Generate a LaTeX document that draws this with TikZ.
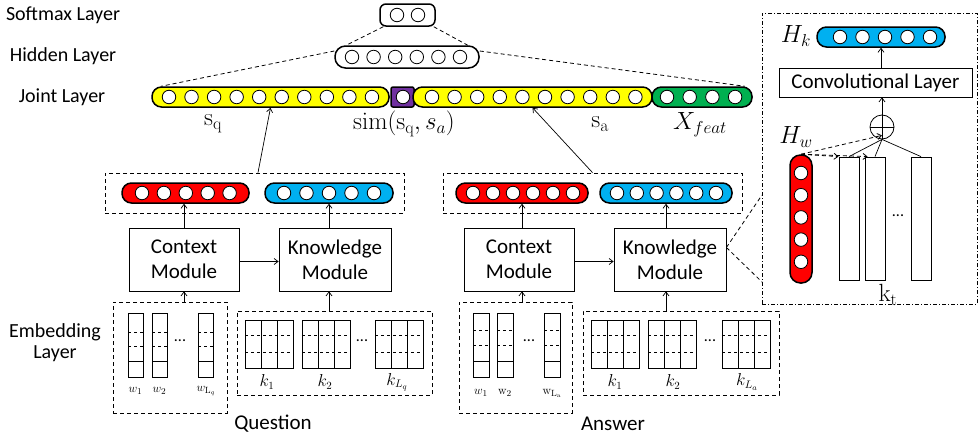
\documentclass[tikz,border=0pt]{standalone}
\usepackage[no-math]{fontspec}
\setmainfont{Carlito}
\usetikzlibrary{arrows.meta}
\definecolor{cyel}{HTML}{FFFF00}
\definecolor{cpur}{HTML}{7030A0}
\definecolor{cgrn}{HTML}{00B050}
\definecolor{cred}{HTML}{FF0000}
\definecolor{cblu}{HTML}{00B0F0}
\tikzset{
  pill/.style={draw, line width=1.5pt, rounded corners=9.5pt, minimum height=20, inner sep=0},
  cir/.style={circle, draw, fill=white, minimum size=13.5, inner sep=0, line width=0.8pt},
  modbox/.style={draw, line width=0.8pt, minimum width=110, minimum height=63, align=center, inner sep=0, font=\fontsize{21}{25}\selectfont},
  dbox/.style={draw, line width=0.8pt, dash pattern=on 4pt off 3pt, inner sep=0},
  dl/.style={line width=0.8pt, dash pattern=on 4pt off 3pt},
  arr/.style={-{Straight Barb[length=4pt,width=6pt]}, line width=0.7pt},
  lab/.style={font=\fontsize{20}{23}\selectfont, inner sep=0},
  mlab/.style={font=\fontsize{24}{26}\selectfont, inner sep=0},
  klab/.style={font=\fontsize{16}{18}\selectfont, inner sep=0},
  wlab/.style={font=\fontsize{13}{15}\selectfont, inner sep=0},
  grid/.style={line width=0.7pt},
}
\begin{document}
\begin{tikzpicture}[x=1pt,y=-1pt]
\useasboundingbox (0,0) rectangle (978,439);

% layer labels
\node[lab] (lsm) at (63,15) {Softmax Layer};
\node[lab] (lhd) at (63,56) {Hidden Layer};
\node[lab] (ljn) at (62,97) {Joint Layer};
\node[lab, align=center, font=\fontsize{20}{21}\selectfont] (lem) at (55,343) {Embedding\\Layer};

% softmax & hidden
\node[pill, minimum width=55, minimum height=22, rounded corners=6pt] (sm) at (407.5,15) {};
\foreach \i in {0,1} \node[cir] (smc\i) at ({397+21*\i},15) {};
\node[pill, minimum width=144, minimum height=22, rounded corners=10.5pt] (hid) at (407,57) {};
\foreach \i in {0,...,5} \node[cir] (hc\i) at ({352+21.6*\i},57) {};

% joint layer
\node[pill, fill=cyel, minimum width=237] (j1) at (270.5,97) {};
\foreach \i in {0,...,9} \node[cir] (j1c\i) at ({169+22.55*\i},97) {};
\node[pill, fill=cpur, minimum width=23, rounded corners=2pt] (jp) at (402.5,97) {};
\node[cir] (jpc) at (403,97) {};
\node[pill, fill=cyel, minimum width=239] (j2) at (532.5,97) {};
\foreach \i in {0,...,9} \node[cir] (j2c\i) at ({432+22.6*\i},97) {};
\node[pill, fill=cgrn, minimum width=100] (jg) at (702,97) {};
\foreach \i in {0,...,3} \node[cir] (jgc\i) at ({667+22.7*\i},97) {};

\draw[dl] ([xshift=4]sm.south west) -- ([xshift=12]hid.north west);
\draw[dl] ([xshift=-2]sm.south east) -- ([xshift=-12]hid.north east);
\draw[dl] ([yshift=6]hid.west) -- ([xshift=10]j1.north west);
\draw[dl] ([yshift=6]hid.east) -- ([xshift=-8]jg.north east);

\node[mlab] (lsq) at (213,124) {$\mathrm{s_q}$};
\node[mlab] (lsim) at (404,124) {$\mathrm{sim}(\mathrm{s_q},s_a)$};
\node[mlab] (lsa) at (600,124) {$\mathrm{s_a}$};
\node[mlab] (lxf) at (700,125) {$X_{feat}$};

% ---------- Question ----------
\node[dbox, minimum width=299, minimum height=40] (qd) at (254.5,193) {};
\node[pill, fill=cred, minimum width=127] (qr) at (185.5,193) {};
\foreach \i in {0,...,4} \node[cir] (qrc\i) at ({142+21.9*\i},193) {};
\node[pill, fill=cblu, minimum width=128] (qb) at (329,193) {};
\foreach \i in {0,...,4} \node[cir] (qbc\i) at ({284+22.5*\i},193) {};
\node[modbox] (qc) at (184,259.5) {Context\\Module};
\node[modbox, minimum width=112] (qk) at (335,259.5) {Knowledge\\Module};
\draw[arr] (qc.north) -- (qc.north |- qr.south);
\draw[arr] (qb.south |- qk.north) -- (qb.south);
\draw[arr] ([yshift=-2]qc.east) -- ([yshift=-2]qk.west);
\draw[arr] ([xshift=3.5]qd.north) -- (j1.south);

\node[dbox, minimum width=114, minimum height=111] (qw) at (170,357.5) {};
\draw[arr] (qc.south |- qw.north) -- (qc.south);
\foreach \x in {128,152,198} {
  \draw[grid] (\x,313) rectangle +(15,64);
  \draw[grid, dashed] (\x,332) -- +(15,0) (\x,346) -- +(15,0);
  \draw[grid] (\x,361) -- +(15,0);
}
\node[klab] (qwdots) at (180,341) {...};
\node[wlab] (qw1) at (135.5,391) {$w_1$};
\node[wlab] (qw2) at (159.5,391) {$w_2$};
\node[wlab] (qw3) at (206,391) {$w_{\mathrm{L}_q}$};

\node[dbox, minimum width=195, minimum height=84] (qkd) at (334.5,353) {};
\draw[arr] (qb.south |- qkd.north) -- (qb.south |- qk.south);
\foreach \x in {245,302,375} {
  \draw[grid] (\x,320) rectangle +(48,48);
  \draw[grid] (\x+16,320) -- +(0,48) (\x+32,320) -- +(0,48);
  \draw[grid, dashed] (\x,335) -- +(48,0) (\x,352) -- +(48,0);
}
\node[klab] (qkdots) at (362,341) {...};
\node[klab] (qk1) at (267,382) {$k_1$};
\node[klab] (qk2) at (325,382) {$k_2$};
\node[klab] (qk3) at (397,382) {$k_{L_q}$};
\node[lab, font=\fontsize{21}{24}\selectfont] (lq) at (273,424) {Question};

% ---------- Answer ----------
\node[dbox, minimum width=299, minimum height=40] (ad) at (592.5,193) {};
\node[pill, fill=cred, minimum width=132] (ar) at (522,193) {};
\foreach \i in {0,...,5} \node[cir] (arc\i) at ({473+20*\i},193) {};
\node[pill, fill=cblu, minimum width=132] (ab) at (666,193) {};
\foreach \i in {0,...,5} \node[cir] (abc\i) at ({617+19.8*\i},193) {};
\node[modbox] (ac) at (519,259.5) {Context\\Module};
\node[modbox, minimum width=112] (ak) at (670,259.5) {Knowledge\\Module};
\draw[arr] (ar.south |- ac.north) -- (ar.south);
\draw[arr] (ab.south |- ak.north) -- (ab.south);
\draw[arr] ([yshift=-2]ac.east) -- ([yshift=-2]ak.west);
\draw[arr] (ad.north) -- (j2.south);

\node[dbox, minimum width=113, minimum height=111] (aw) at (515.5,357.5) {};
\draw[arr] (ar.south |- aw.north) -- (ar.south |- ac.south);
\foreach \x in {473,497,544} {
  \draw[grid] (\x,313) rectangle +(16,64);
  \draw[grid, dashed] (\x,330) -- +(16,0) (\x,345) -- +(16,0);
  \draw[grid] (\x,361) -- +(16,0);
}
\node[klab] (awdots) at (529,341) {...};
\node[wlab] (aw1) at (481,393) {$w_1$};
\node[wlab] (aw2) at (505,393) {$\mathrm{w_2}$};
\node[wlab] (aw3) at (552,393) {$\mathrm{w_{L_a}}$};

\node[dbox, minimum width=196, minimum height=84] (akd) at (681,353) {};
\draw[arr] (ab.south |- akd.north) -- (ab.south |- ak.south);
\foreach \x in {591,648,722} {
  \draw[grid] (\x,320) rectangle +(48,48);
  \draw[grid] (\x+16,320) -- +(0,48) (\x+32,320) -- +(0,48);
  \draw[grid, dashed] (\x,335) -- +(48,0) (\x,352) -- +(48,0);
}
\node[klab] (akdots) at (710,341) {...};
\node[klab] (ak1) at (615,382) {$k_1$};
\node[klab] (ak2) at (673,382) {$k_2$};
\node[klab] (ak3) at (747,382) {$k_{L_a}$};
\node[lab, font=\fontsize{21}{24}\selectfont] (la) at (613,424) {Answer};

% ---------- right panel ----------
\node[draw, line width=0.8pt, dash pattern=on 4pt off 2pt on 1pt off 2pt, minimum width=215, minimum height=291, inner sep=0] (panel) at (869.5,158.5) {};
\coordinate (zt) at (762,195);
\coordinate (zb) at (762,282);
\draw[dl] ([yshift=12]ak.east) -- (zt);
\draw[dl] ([yshift=12]ak.east) -- (zb);

\node[mlab] (lhk) at (796,36) {$H_k$};
\node[pill, fill=cblu, minimum width=128] (hk) at (881,37) {};
\foreach \i in {0,...,4} \node[cir] (hkc\i) at ({840+22.5*\i},37) {};
\node[modbox, minimum width=193, minimum height=29] (conv) at (875.5,82.5) {Convolutional Layer};
\draw[arr] (hk.south |- conv.north) -- (hk.south);
\node[circle, draw, line width=0.8pt, minimum size=24, inner sep=0] (op) at (882,127) {};
\draw[line width=0.8pt] (op.north) -- (op.south) (op.west) -- (op.east);
\draw[arr] (op.north) -- (op.north |- conv.south);

\node[mlab] (lhw) at (796,137) {$H_w$};
\node[pill, fill=cred, minimum width=22, minimum height=128, rounded corners=10.5pt] (hw) at (801,219) {};
\foreach \i in {0,...,4} \node[cir] (hwc\i) at (801,{173+22.2*\i}) {};
\node[draw, line width=0.8pt, minimum width=20, minimum height=123, inner sep=0] (r1) at (849,218.5) {};
\node[draw, line width=0.8pt, minimum width=20, minimum height=123, inner sep=0] (r2) at (875,218.5) {};
\node[draw, line width=0.8pt, minimum width=20, minimum height=123, inner sep=0] (r3) at (921,218.5) {};
\node[klab] (rdots) at (898,216) {...};
\node[mlab] (lkt) at (888,295) {$\mathrm{k_t}$};
\draw[line width=0.7pt] (op.south) -- (r1.north) (op.south) -- (r2.north) (op.south) -- (r3.north);
\draw[dl, -{Straight Barb[length=4pt,width=6pt]}] (hw.north) -- (r1.north west);
\draw[dl, -{Straight Barb[length=4pt,width=6pt]}] (hw.north) -- ([xshift=3]r2.north west);
\draw[dl, -{Straight Barb[length=4pt,width=6pt]}] (hw.north) -- ([yshift=4]op.south);
\end{tikzpicture}
\end{document}
